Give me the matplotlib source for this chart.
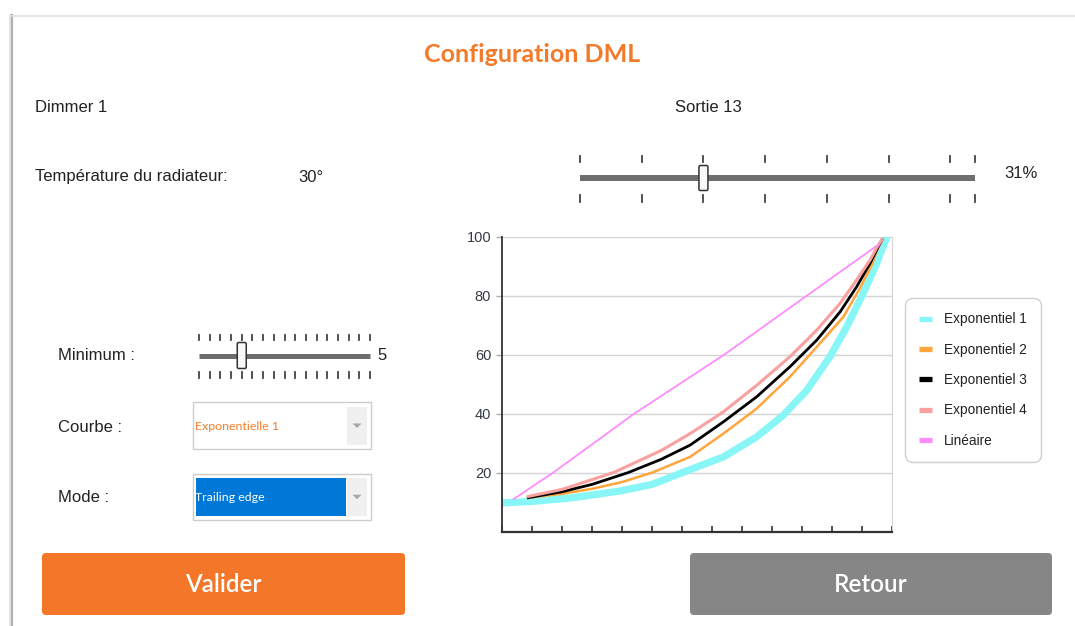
import matplotlib
matplotlib.use("Agg")
import matplotlib.pyplot as plt
from matplotlib.patches import Rectangle, FancyBboxPatch, Polygon
from matplotlib.lines import Line2D

# ---------------- chart data (x in tick units, y in %) ----------------
exp1_x = [0.0, 1.0, 2.3, 3.9, 5.0, 6.26, 7.37, 8.48, 9.37, 10.15, 10.92, 11.48, 12.03, 12.48, 12.82]
exp1_y = [9.7, 10.2, 11.4, 13.7, 16.0, 21.0, 25.3, 32.1, 39.5, 47.9, 59.3, 69.4, 80.8, 91.0, 100.0]
exp2_x = [0.82, 2.0, 3.0, 4.0, 5.0, 6.26, 7.37, 8.48, 9.59, 10.48, 11.37, 11.92, 12.31, 12.53, 12.68]
exp2_y = [11.4, 12.8, 14.5, 16.8, 20.0, 25.3, 33.2, 41.7, 52.5, 62.6, 72.8, 82.5, 90.4, 96.3, 99.4]
exp3_x = [0.82, 2.0, 3.0, 4.2, 5.3, 6.26, 7.37, 8.48, 9.59, 10.48, 11.26, 11.81, 12.26, 12.53, 12.68]
exp3_y = [11.4, 13.5, 16.0, 20.0, 24.5, 29.3, 37.2, 45.7, 55.9, 64.9, 74.5, 83.0, 91.0, 96.6, 99.4]
exp4_x = [0.82, 2.0, 3.71, 5.3, 6.26, 7.37, 8.48, 9.59, 10.48, 11.26, 11.81, 12.26, 12.48, 12.68]
exp4_y = [11.8, 14.3, 20.0, 27.5, 33.2, 40.6, 49.6, 59.3, 68.3, 77.4, 85.3, 92.1, 96.3, 99.4]
lin_x = [0.35, 1.7, 4.4, 7.4, 10.15, 12.55]
lin_y = [10.8, 20.0, 40.0, 60.0, 80.0, 97.4]

series_names = ["Exponentiel 1", "Exponentiel 2", "Exponentiel 3", "Exponentiel 4", "Linéaire"]
series_colors = ["#88f6f6", "#ffa53c", "#000000", "#f9a0a0", "#ff8cff"]
series_widths = [5.2, 1.8, 2.0, 2.2, 1.3]
yticks = [20, 40, 60, 80, 100]

# ---------------- form values ----------------
title = "Configuration DML"
dimmer = "Dimmer 1"
sortie = "Sortie 13"
temp_label = "Température du radiateur:"
temp_value = "30°"
out_min, out_max, out_val = 0, 32, 10          # top slider
min_min, min_max, min_val = 1, 17, 5           # "Minimum" slider
courbe = "Exponentielle 1"
mode = "Trailing edge"

W, H = 1075, 626
fig = plt.figure(figsize=(W / 100, H / 100), dpi=100)
fig.patch.set_facecolor("white")

# overlay in pixel coordinates for the form widgets
ui = fig.add_axes([0, 0, 1, 1])
ui.set_xlim(0, W)
ui.set_ylim(H, 0)
ui.axis("off")

lab = dict(family=["Liberation Sans", "DejaVu Sans"], fontsize=12, color="#222222")

# panel border with shadow
ui.add_patch(Rectangle((9, 14), 4, H, color="#e4e4e4", lw=0))
ui.plot([11.5, 11.5], [15, H], color="#b0b0b0", lw=1.5)
ui.plot([12, W], [15.5, 15.5], color="#e0e0e0", lw=1.2)

ui.text(532, 55, title, ha="center", va="center", family=["Lato", "DejaVu Sans"],
        fontweight="bold", fontsize=18, color="#f37a2a")
ui.text(35, 107, dimmer, ha="left", va="center", **lab)
ui.text(675, 107, sortie, ha="left", va="center", **lab)
ui.text(35, 177, temp_label, ha="left", va="center", **lab)
ui.text(298, 177, temp_value, ha="left", va="center", **lab)
ui.text(1004, 174, f"{round(100 * out_val / out_max)}%", ha="left", va="center", **lab)
ui.text(58, 356, "Minimum :", ha="left", va="center", **lab)
ui.text(58, 427, "Courbe :", ha="left", va="center", **lab)
ui.text(58, 498, "Mode :", ha="left", va="center", **lab)


def slider(x0, x1, yc, vmin, vmax, val, tick_vals, thick, top, bot, tw, th):
    ui.plot([x0, x1], [yc, yc], color="#6e6e6e", lw=thick * 0.72, solid_capstyle="butt")
    for t in tick_vals:
        tx = x0 + (t - vmin) / (vmax - vmin) * (x1 - x0)
        ui.plot([tx, tx], top, color="#444444", lw=1.3)
        ui.plot([tx, tx], bot, color="#444444", lw=1.3)
    cx = x0 + (val - vmin) / (vmax - vmin) * (x1 - x0)
    ui.add_patch(FancyBboxPatch((cx - tw / 2, yc - th / 2), tw, th,
                                boxstyle="round,pad=0,rounding_size=1.5",
                                fc="#f8f8f8", ec="#333333", lw=1.1, zorder=5))


slider(580, 975, 178, out_min, out_max, out_val,
       list(range(out_min, out_max, 5)) + [out_max], 6, (156, 162), (195, 202), 9, 25)
slider(199, 370, 355.5, min_min, min_max, min_val,
       list(range(min_min, min_max + 1)), 5, (335, 340), (372, 378), 9, 26)
ui.text(377, 355.5, str(min_val), ha="left", va="center", **lab)


def combo(y0, y1, text, fill, tcolor):
    ui.add_patch(Rectangle((192.5, y0), 178, y1 - y0, fc="white", ec="#cccccc", lw=1))
    ui.add_patch(Rectangle((346.5, y0 + 4.5), 20, y1 - y0 - 9, fc="#f0f0f0", lw=0))
    if fill:
        ui.add_patch(Rectangle((195.5, y0 + 4.5), 150, y1 - y0 - 9, fc=fill, lw=0))
    yc = (y0 + y1) / 2
    ui.add_patch(Polygon([[352.5, yc - 2], [361.5, yc - 2], [357, yc + 2.5]],
                         closed=True, fc="#a8a8a8", lw=0))
    ui.text(195, yc + 0.5, text, ha="left", va="center", family=["Lato", "DejaVu Sans"],
            fontsize=8.9, color=tcolor)


combo(402, 449, courbe, None, "#f77d2a")
combo(473.5, 520, mode, "#0078d7", "white")

# buttons
ui.add_patch(FancyBboxPatch((42, 553), 363, 62, boxstyle="round,pad=0,rounding_size=4",
                            fc="#f47628", lw=0))
ui.add_patch(FancyBboxPatch((690, 553), 362, 62, boxstyle="round,pad=0,rounding_size=4",
                            fc="#868686", lw=0))
ui.text(223.5, 584, "Valider", ha="center", va="center", family=["Lato", "DejaVu Sans"],
        fontsize=17.5, fontweight="semibold", color="white")
ui.text(871, 584, "Retour", ha="center", va="center", family=["Lato", "DejaVu Sans"],
        fontsize=17.5, fontweight="semibold", color="white")

# ---------------- chart ----------------
ax = fig.add_axes([502.3 / W, 1 - 531.5 / H, 390 / W, (531.5 - 236.7) / H])
ax.patch.set_alpha(0)
xs = [exp1_x, exp2_x, exp3_x, exp4_x, lin_x]
ys = [exp1_y, exp2_y, exp3_y, exp4_y, lin_y]
for x, y, c, w, n in zip(xs, ys, series_colors, series_widths, series_names):
    ax.plot(x, y, color=c, lw=w, label=n, solid_capstyle="butt", solid_joinstyle="round")
# cyan stays underneath the others
for ln in ax.lines[1:]:
    ln.set_zorder(3)

ax.set_xlim(0, 13)
ax.set_ylim(0, 100)
ax.set_xticks(range(0, 14))
ax.set_xticklabels([])
ax.set_yticks(yticks)
ax.set_yticklabels([str(v) for v in yticks], family=["Liberation Sans", "DejaVu Sans"],
                   fontsize=10.5, color="#333a44")
ax.tick_params(axis="x", direction="in", length=4, width=1.2, color="#333333")
ax.tick_params(axis="y", direction="out", length=4, width=1, color="#aaaaaa", pad=4)
ax.grid(axis="y", color="#d4d4d4", lw=1)
ax.set_axisbelow(True)
ax.spines["left"].set_color("#333333")
ax.spines["left"].set_linewidth(1.3)
ax.spines["bottom"].set_color("#333333")
ax.spines["bottom"].set_linewidth(1.6)
ax.spines["right"].set_color("#d4d4d4")
ax.spines["top"].set_visible(False)

handles = [Line2D([], [], color=c, lw=3.8, solid_capstyle="butt") for c in series_colors]
leg = ax.legend(handles, series_names, loc="upper left",
                bbox_to_anchor=(905 / W, 1 - 298 / H), bbox_transform=fig.transFigure,
                borderaxespad=0, frameon=True, fancybox=True, framealpha=1,
                edgecolor="#d0d0d0", handlelength=0.95, handletextpad=0.85,
                labelspacing=1.2, borderpad=1.05,
                prop={"family": ["Liberation Sans", "DejaVu Sans"], "size": 9.8})
leg.get_frame().set_linewidth(1.0)
leg.get_frame().set_boxstyle("round,pad=0,rounding_size=0.6")
for t in leg.get_texts():
    t.set_color("#222222")

fig.savefig("out.png", dpi=100)
